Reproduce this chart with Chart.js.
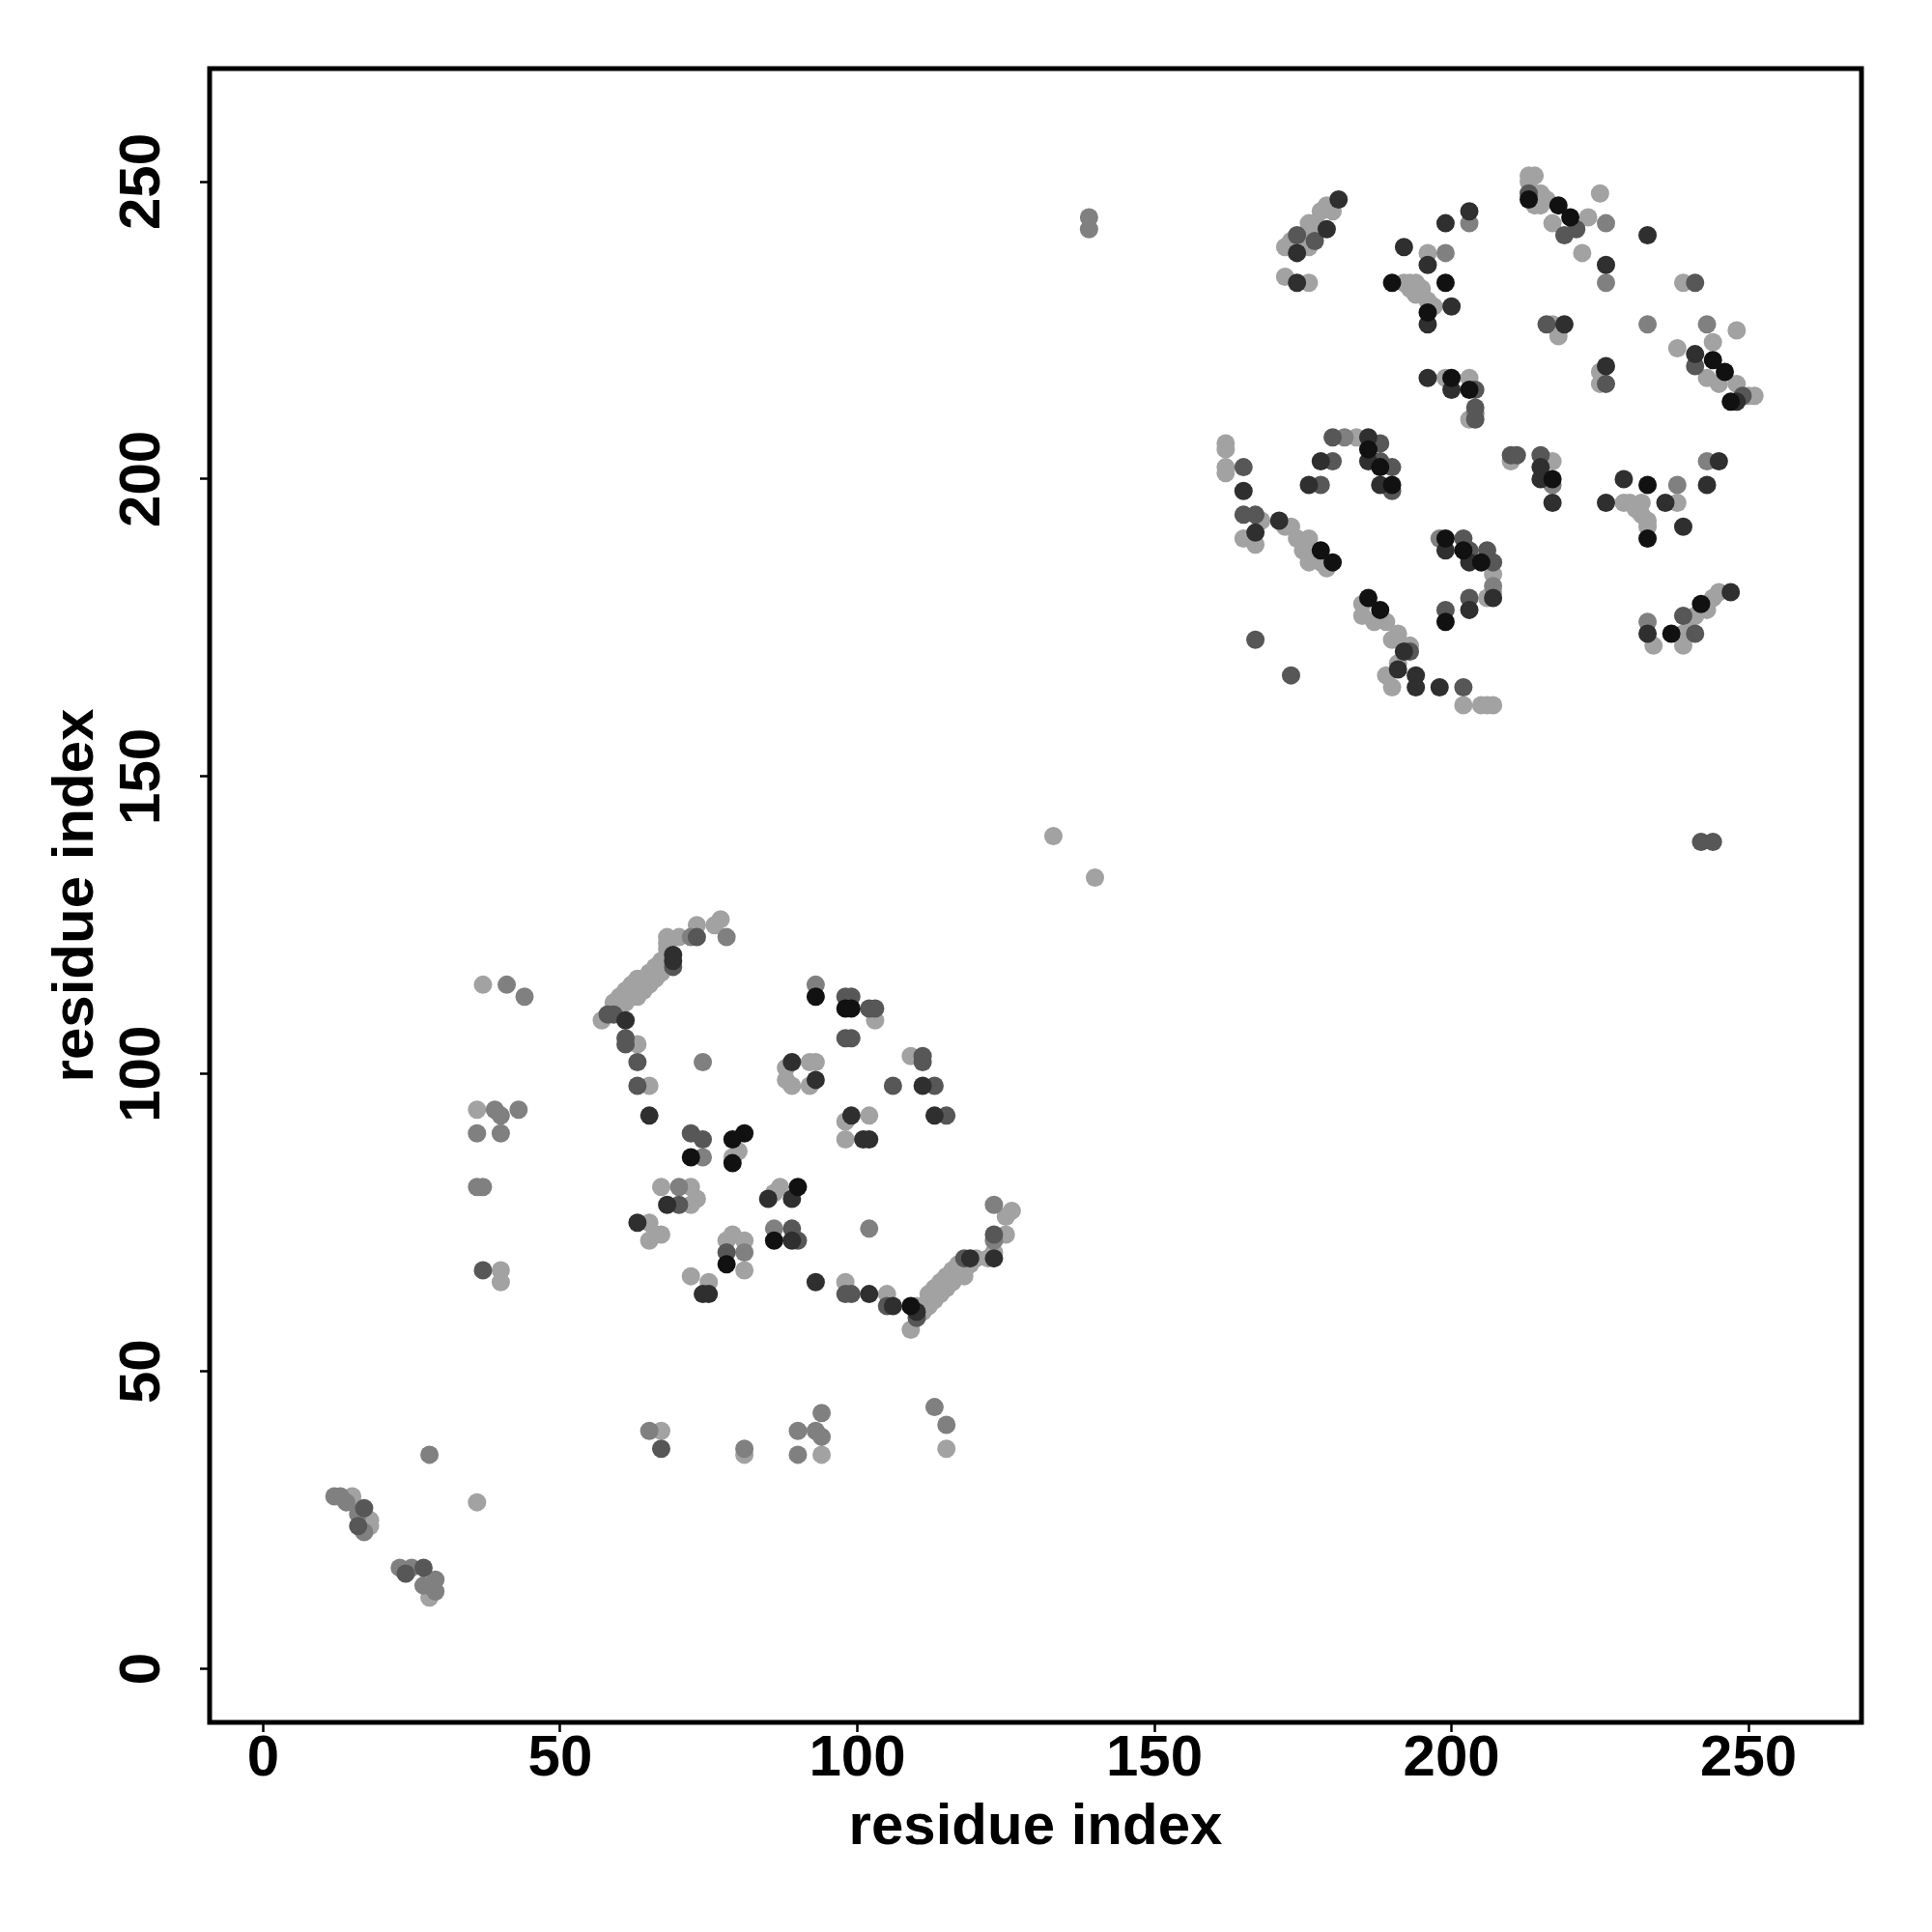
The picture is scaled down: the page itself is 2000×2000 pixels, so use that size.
<!DOCTYPE html>
<html><head><meta charset="utf-8">
<script src="https://cdn.jsdelivr.net/npm/chart.js@4/dist/chart.umd.min.js"></script>
<style>html,body{margin:0;padding:0;background:#fff}canvas{display:block}</style>
</head><body>
<canvas id="c" width="2000" height="2000"></canvas>
<script>
const tickValues = [0, 50, 100, 150, 200, 250];
const xTitle = 'residue index';
const yTitle = 'residue index';

const blackPts = [[190,233],[199,233],[196,228],[200,217],[203,215],[186,205],[218,246],[220,244],[244,220],[246,218],[247,213],[213,247],[178,188],[180,186],[188,202],[190,199],[186,180],[188,178],[199,190],[202,188],[205,186],[199,176],[217,200],[233,199],[233,190],[242,179],[237,174],
[72,86],[79,89],[81,90],[79,85],[93,113],[98,111],[99,111],[109,61],[78,68],[90,81],[86,72]];

const darkPts = [[181,247],[174,238],[179,242],[174,233],[192,239],[196,236],[199,243],[203,245],[200,229],[196,226],[196,217],[200,215],[186,207],[226,236],[233,241],[219,226],[226,219],[241,221],[248,213],[165,198],[167,191],[171,193],[178,203],[176,199],[186,203],[188,199],[192,171],[191,168],[194,167],[194,165],[198,165],[199,188],[203,186],[207,180],[203,178],[215,202],[215,200],[217,196],[229,200],[245,203],[243,199],[226,196],[236,196],[239,192],[247,181],[233,174],
[61,109],[65,93],[69,120],[69,119],[89,102],[93,99],[99,93],[101,89],[102,89],[111,98],[113,93],[102,63],[106,61],[110,60],[119,69],[123,69],[68,78],[63,75],[74,63],[75,63],[85,79],[89,79],[89,72],[93,65]];

const midPts = [[174,241],[177,240],[204,215],[204,212],[204,210],[180,207],[188,206],[221,242],[219,241],[216,226],[226,216],[241,233],[241,219],[249,214],[213,248],[165,202],[165,194],[167,194],[180,203],[178,199],[188,203],[190,202],[190,198],[193,171],[167,173],[173,167],[202,190],[203,188],[206,188],[207,186],[203,180],[199,178],[210,204],[211,204],[215,204],[239,177],[241,174],[202,165],[242,139],[244,139],
[73,123],[69,118],[58,110],[59,110],[61,106],[61,105],[63,102],[63,98],[72,90],[74,89],[98,113],[99,113],[102,111],[103,111],[98,106],[99,106],[111,103],[111,102],[106,98],[113,98],[115,93],[105,61],[99,63],[98,63],[110,59],[118,69],[123,73],[70,78],[78,70],[89,74],[90,72],[67,37],[37,67],[16,24],[24,16],[17,27],[27,17]];

const grayPts = [[182,207],[199,238],[203,243],[204,211],[226,243],[226,233],[233,226],[243,226],[198,190],[207,182],[217,199],[238,199],[243,203],[233,176],[139,244],[139,242],
[78,123],[72,123],[74,102],[74,86],[93,115],[102,74],[123,78],[123,72],[70,81],[81,70],[86,74],[65,40],[81,37],[90,40],[94,43],[93,40],[94,39],[90,36],[113,44],[115,41],[28,36],[41,115],[44,113],[39,94],[40,93],[43,94],[36,90],[40,90],[36,81],[37,81],[12,29],[13,29],[14,28],[16,26],[17,23],[23,17],[25,17],[27,14],[29,15],[29,13]];

const lightPts = [[179,246],[180,245],[172,239],[176,239],[176,243],[178,245],[176,241],[173,240],[175,241],[177,243],[172,234],[176,233],[196,238],[192,233],[193,233],[194,233],[195,232],[196,230],[197,229],[194,231],[195,231],[193,232],[199,217],[203,217],[203,210],[162,206],[184,207],[213,251],[213,250],[214,251],[215,248],[214,246],[216,247],[215,246],[217,243],[223,244],[225,248],[222,238],[217,226],[218,224],[225,218],[225,216],[239,233],[248,225],[238,222],[244,223],[243,217],[245,216],[248,216],[251,214],[250,214],[162,205],[162,202],[162,201],[165,190],[167,189],[168,193],[172,192],[173,192],[174,190],[176,190],[175,188],[177,187],[178,186],[176,186],[179,185],[185,179],[185,177],[187,176],[189,176],[191,174],[193,172],[190,173],[191,169],[189,167],[190,165],[202,162],[205,162],[206,162],[207,162],[207,184],[207,181],[206,180],[210,203],[217,203],[229,196],[230,196],[231,195],[232,194],[233,193],[233,192],[232,196],[238,196],[245,181],[244,180],[243,178],[241,177],[240,176],[239,174],[239,172],[234,172],
[77,126],[76,125],[73,125],[68,123],[70,123],[68,122],[68,121],[57,109],[58,110],[59,111],[60,112],[61,113],[62,114],[63,114],[64,115],[65,116],[66,117],[67,118],[68,119],
[59,112],[60,113],[61,114],[62,115],[63,116],[64,116],[65,117],[66,118],[67,119],[60,111],[61,112],[62,113],[63,113],[64,114],[65,115],[66,116],[67,117],
[63,105],[65,98],[88,101],[93,102],[92,102],[88,99],[89,98],[92,98],[98,92],[98,89],[102,93],[80,87],[79,86],[103,109],[109,103],[105,63],[109,57],[110,61],[111,61],[112,62],[113,63],[114,64],[115,65],[116,66],[117,67],[118,67],[119,68],[120,69],
[111,60],[112,61],[113,62],[114,63],[115,64],[116,65],[117,66],[118,66],[112,63],[113,64],[114,65],[115,66],[116,67],[117,68],
[122,69],[123,70],[125,73],[126,77],[125,76],[67,81],[72,81],[73,79],[72,78],[65,75],[66,73],[67,73],[65,72],[78,72],[79,73],[81,72],[81,67],[72,66],[75,65],[86,80],[87,81],[98,65],[67,40],[81,36],[94,36],[115,37],[36,28],[37,115],[36,94],[40,67],[40,65],[15,29],[15,28],[18,25],[18,24],[28,12],[133,140],[140,133]];

const seriesColors = ['#111111', '#2f2f2f', '#575757', '#808080', '#a2a2a2'];
const series = [blackPts, darkPts, midPts, grayPts, lightPts];

const FONT = 'Liberation Sans, Arial, Helvetica, sans-serif';

const framePlugin = {
  id: 'frame',
  afterDraw(chart) {
    const {ctx, chartArea: a} = chart;
    ctx.save();
    ctx.strokeStyle = '#000';
    ctx.lineWidth = 5;
    ctx.strokeRect(a.left, a.top, a.right - a.left, a.bottom - a.top);
    ctx.restore();
  }
};

new Chart(document.getElementById('c'), {
  type: 'scatter',
  data: {
    datasets: series.map((pts, i) => ({
      data: pts.map(([x, y]) => ({x, y})),
      backgroundColor: seriesColors[i],
      borderWidth: 0,
      pointRadius: 9.5,
      pointHoverRadius: 9.5
    }))
  },
  options: {
    responsive: false,
    devicePixelRatio: 1,
    animation: false,
    events: [],
    layout: {padding: {top: 71, right: 73, left: 0, bottom: 0}},
    plugins: {legend: {display: false}, tooltip: {enabled: false}},
    scales: {
      x: {
        type: 'linear', position: 'bottom', min: -9, max: 269,
        afterBuildTicks: s => { s.ticks = tickValues.map(v => ({value: v})); },
        afterFit: s => { s.height = 217; },
        grid: {drawOnChartArea: false, drawTicks: true, tickLength: 10, tickWidth: 2.5, tickColor: '#000'},
        border: {display: false},
        ticks: {color: '#000', font: {family: FONT, weight: 'bold', size: 60}, padding: -8, maxRotation: 0, minRotation: 0, autoSkip: false},
        title: {display: true, text: xTitle, color: '#000', font: {family: FONT, weight: 'bold', size: 60}, padding: {top: 0, bottom: 72}}
      },
      y: {
        type: 'linear', position: 'left', min: -9, max: 269,
        afterBuildTicks: s => { s.ticks = tickValues.map(v => ({value: v})); },
        afterFit: s => { s.width = 217; },
        grid: {drawOnChartArea: false, drawTicks: true, tickLength: 10, tickWidth: 2.5, tickColor: '#000'},
        border: {display: false},
        ticks: {color: '#000', font: {family: FONT, weight: 'bold', size: 60}, padding: 8, minRotation: 90, maxRotation: 90, crossAlign: 'center', autoSkip: false},
        title: {display: true, text: yTitle, color: '#000', font: {family: FONT, weight: 'bold', size: 60}, padding: {top: 43, bottom: 0}}
      }
    }
  },
  plugins: [framePlugin]
});
</script>
</body></html>
